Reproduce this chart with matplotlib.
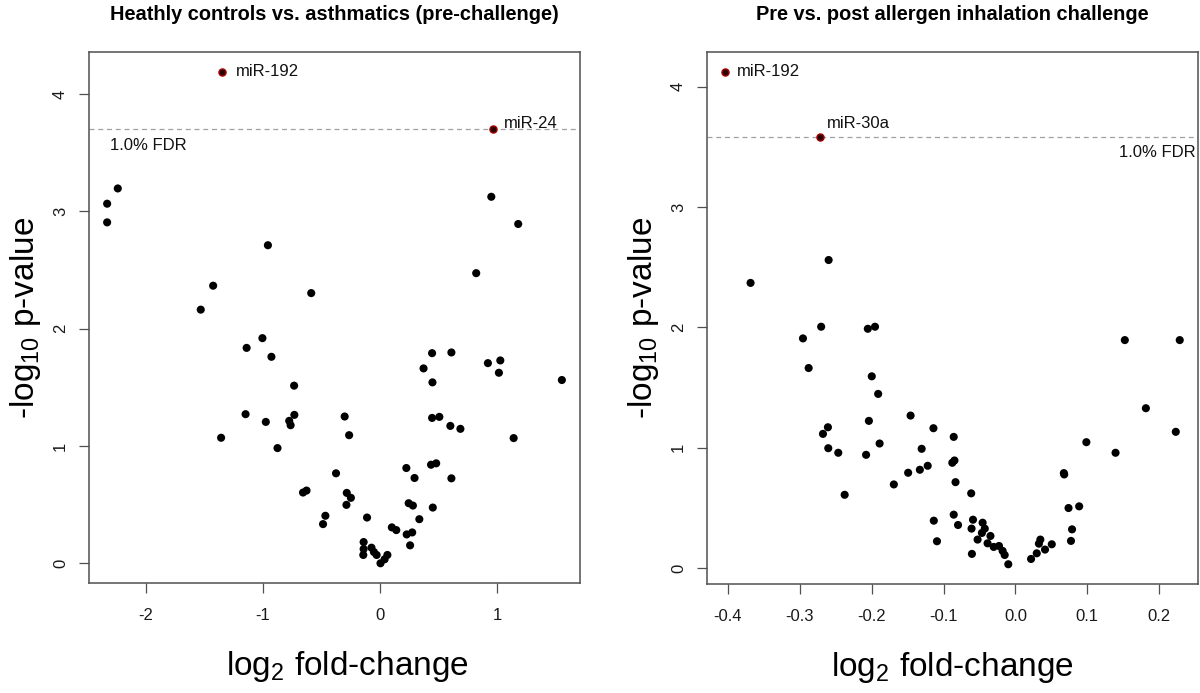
import matplotlib
matplotlib.use('Agg')
import matplotlib.pyplot as plt

plt.rcParams['font.family'] = ['Liberation Sans', 'DejaVu Sans']
plt.rcParams['axes.unicode_minus'] = False
plt.rcParams['mathtext.fontset'] = 'custom'
plt.rcParams['mathtext.rm'] = 'Liberation Sans'
plt.rcParams['mathtext.it'] = 'Liberation Sans'
plt.rcParams['mathtext.default'] = 'rm'

# ---------------- data ----------------
titles = ["Heathly controls vs. asthmatics (pre-challenge)",
          "Pre vs. post allergen inhalation challenge"]

left_x = [-2.333, -2.333, -2.242, -0.959, 0.950, 1.180, 0.821,
          -1.427, -1.533, -0.589, -1.006, -1.141, -0.929, -0.735,
          0.444, 0.609, 0.371, 0.447, 0.921, 1.027, 1.015, 1.553,
          -1.150, -0.977, -1.359, -0.733, -0.777, -0.765, -0.877,
          -0.303, -0.265, 0.444, 0.506, 0.600, 0.686, 1.141,
          0.224, 0.294, 0.435, 0.479, 0.609, -0.377, -0.659, -0.629,
          -0.285, -0.250, -0.288, -0.468, -0.488, -0.112, 0.244, 0.280,
          0.450, 0.335, 0.100, 0.138, 0.227, 0.274, 0.256,
          -0.141, -0.141, -0.144, -0.074, -0.053, -0.030, 0.062, 0.038, 0.003]
left_y = [3.065, 2.906, 3.195, 2.711, 3.124, 2.892, 2.473,
          2.366, 2.162, 2.303, 1.919, 1.836, 1.760, 1.514,
          1.791, 1.797, 1.661, 1.542, 1.706, 1.729, 1.624, 1.562,
          1.271, 1.205, 1.070, 1.265, 1.214, 1.177, 0.982,
          1.251, 1.092, 1.239, 1.248, 1.171, 1.146, 1.067,
          0.812, 0.727, 0.840, 0.852, 0.724, 0.767, 0.603, 0.620,
          0.600, 0.558, 0.498, 0.405, 0.334, 0.390, 0.512, 0.492,
          0.475, 0.376, 0.306, 0.283, 0.246, 0.263, 0.153,
          0.181, 0.122, 0.071, 0.133, 0.096, 0.071, 0.071, 0.034, 0.000]
left_hl_names = ["miR-192", "miR-24"]
left_hl_x = [-1.353, 0.962]
left_hl_y = [4.19, 3.70]
left_fdr = 3.70

right_x = [-0.3684, -0.2598, -0.2955, -0.2702, -0.2876, -0.2053, -0.1953, -0.1998,
           -0.1909, -0.2038, -0.1889, -0.2677, -0.2608, -0.2603, -0.2464, -0.2375,
           -0.2077, -0.1458, -0.1304, -0.1492, -0.1329, -0.1220, -0.1140, -0.1691,
           -0.0858, -0.0878, -0.0848, -0.0833, -0.0615, -0.0858, -0.1135, -0.1091,
           -0.0798, -0.0590, -0.0610, -0.0605, -0.0456, -0.0426, -0.0526, -0.0466,
           -0.0347, -0.0387, -0.0302, -0.0228, -0.0178, -0.0149, -0.0099,
           0.0218, 0.0297, 0.0347, 0.0327, 0.0412, 0.0506, 0.0674, 0.0679,
           0.0739, 0.0887, 0.0788, 0.0773, 0.0987, 0.1393, 0.1522, 0.1815,
           0.2231, 0.2286]
right_y = [2.370, 2.560, 1.909, 2.006, 1.663, 1.989, 2.006, 1.594,
           1.448, 1.224, 1.036, 1.116, 1.171, 0.997, 0.959, 0.610,
           0.942, 1.268, 0.992, 0.793, 0.818, 0.851, 1.163, 0.696,
           1.091, 0.876, 0.895, 0.715, 0.622, 0.445, 0.395, 0.224,
           0.359, 0.403, 0.329, 0.119, 0.378, 0.329, 0.238, 0.293,
           0.268, 0.207, 0.177, 0.185, 0.144, 0.110, 0.033,
           0.077, 0.124, 0.238, 0.204, 0.155, 0.199, 0.790, 0.779,
           0.500, 0.514, 0.323, 0.227, 1.047, 0.959, 1.895, 1.329,
           1.133, 1.895]
right_hl_names = ["miR-192", "miR-30a"]
right_hl_x = [-0.4036, -0.2722]
right_hl_y = [4.124, 3.584]
right_fdr = 3.581

left_xticks = [-2, -1, 0, 1]
left_xticklabels = ["-2", "-1", "0", "1"]
right_xticks = [-0.4, -0.3, -0.2, -0.1, 0.0, 0.1, 0.2]
right_xticklabels = ["-0.4", "-0.3", "-0.2", "-0.1", "0.0", "0.1", "0.2"]
yticks = [0, 1, 2, 3, 4]
fdr_label = "1.0% FDR"

# ---------------- layout ----------------
W, H = 1200, 693
fig = plt.figure(figsize=(12, 6.93), dpi=100)


def px_rect(l, t, r, b):
    return [l / W, (H - b) / H, (r - l) / W, (b - t) / H]


FRAME = '#505050'


def panel(rect, x, y, hx, hy, names, offsets, fdr, title, xticks, xtl,
          xlim, ylim, fdr_side, xlabel_x):
    ax = fig.add_axes(rect)
    ax.scatter(x, y, s=34, c='black', edgecolors='none', zorder=3)
    ax.scatter(hx, hy, s=26, c='#2a0000', edgecolors='#a40000',
               linewidths=1.0, zorder=4)
    for n, xx, yy, off in zip(names, hx, hy, offsets):
        ax.annotate(n, xy=(xx, yy), xytext=off, textcoords='offset points',
                    ha='left', va='center', fontsize=12, color='#111111')
    ax.axhline(fdr, color='#a0a0a0', lw=0.9, ls=(0, (4, 3)), zorder=1)
    if fdr_side == 'left':
        ax.annotate(fdr_label, xy=(0, fdr), xycoords=('axes fraction', 'data'),
                    xytext=(15, -12), textcoords='offset points',
                    ha='left', va='center', fontsize=12, color='#111111')
    else:
        ax.annotate(fdr_label, xy=(1, fdr), xycoords=('axes fraction', 'data'),
                    xytext=(-2, -11), textcoords='offset points',
                    ha='right', va='center', fontsize=12, color='#111111')
    ax.set_xlim(*xlim)
    ax.set_ylim(*ylim)
    ax.set_xticks(xticks)
    ax.set_xticklabels(xtl)
    ax.set_yticks(yticks)
    ax.set_yticklabels([str(v) for v in yticks])
    for s in ax.spines.values():
        s.set_color(FRAME)
        s.set_linewidth(1.1)
    ax.tick_params(direction='out', length=7.2, width=0.9, color=FRAME,
                   labelsize=12, labelcolor='#1a1a1a')
    ax.tick_params(axis='x', pad=11)
    ax.tick_params(axis='y', pad=8, labelrotation=90)
    for lab in ax.get_yticklabels():
        lab.set_va('center')
    ax.set_title(title, fontsize=14.4, fontweight='bold', pad=23)
    ax.set_xlabel(r'log$_2$ fold-change', fontsize=24)
    ax.set_ylabel(r'-log$_{10}$ p-value', fontsize=24)
    bw = rect[2] * W
    bh = rect[3] * H
    ax.xaxis.set_label_coords(xlabel_x, -66 / bh)
    ax.yaxis.set_label_coords(-46 / bw, 0.5)
    return ax


panel(px_rect(89, 52, 580, 583), left_x, left_y, left_hl_x, left_hl_y,
      left_hl_names, [(10, 0), (8, 4)], left_fdr, titles[0],
      left_xticks, left_xticklabels, (-2.488, 1.708), (-0.168, 4.358),
      'left', (347 - 89) / 491)

panel(px_rect(707, 52, 1198, 584), right_x, right_y, right_hl_x, right_hl_y,
      right_hl_names, [(8.5, 0), (5, 9.5)], right_fdr, titles[1],
      right_xticks, right_xticklabels, (-0.429, 0.254), (-0.131, 4.288),
      'right', 0.5)

fig.savefig('out.png', dpi=100)
